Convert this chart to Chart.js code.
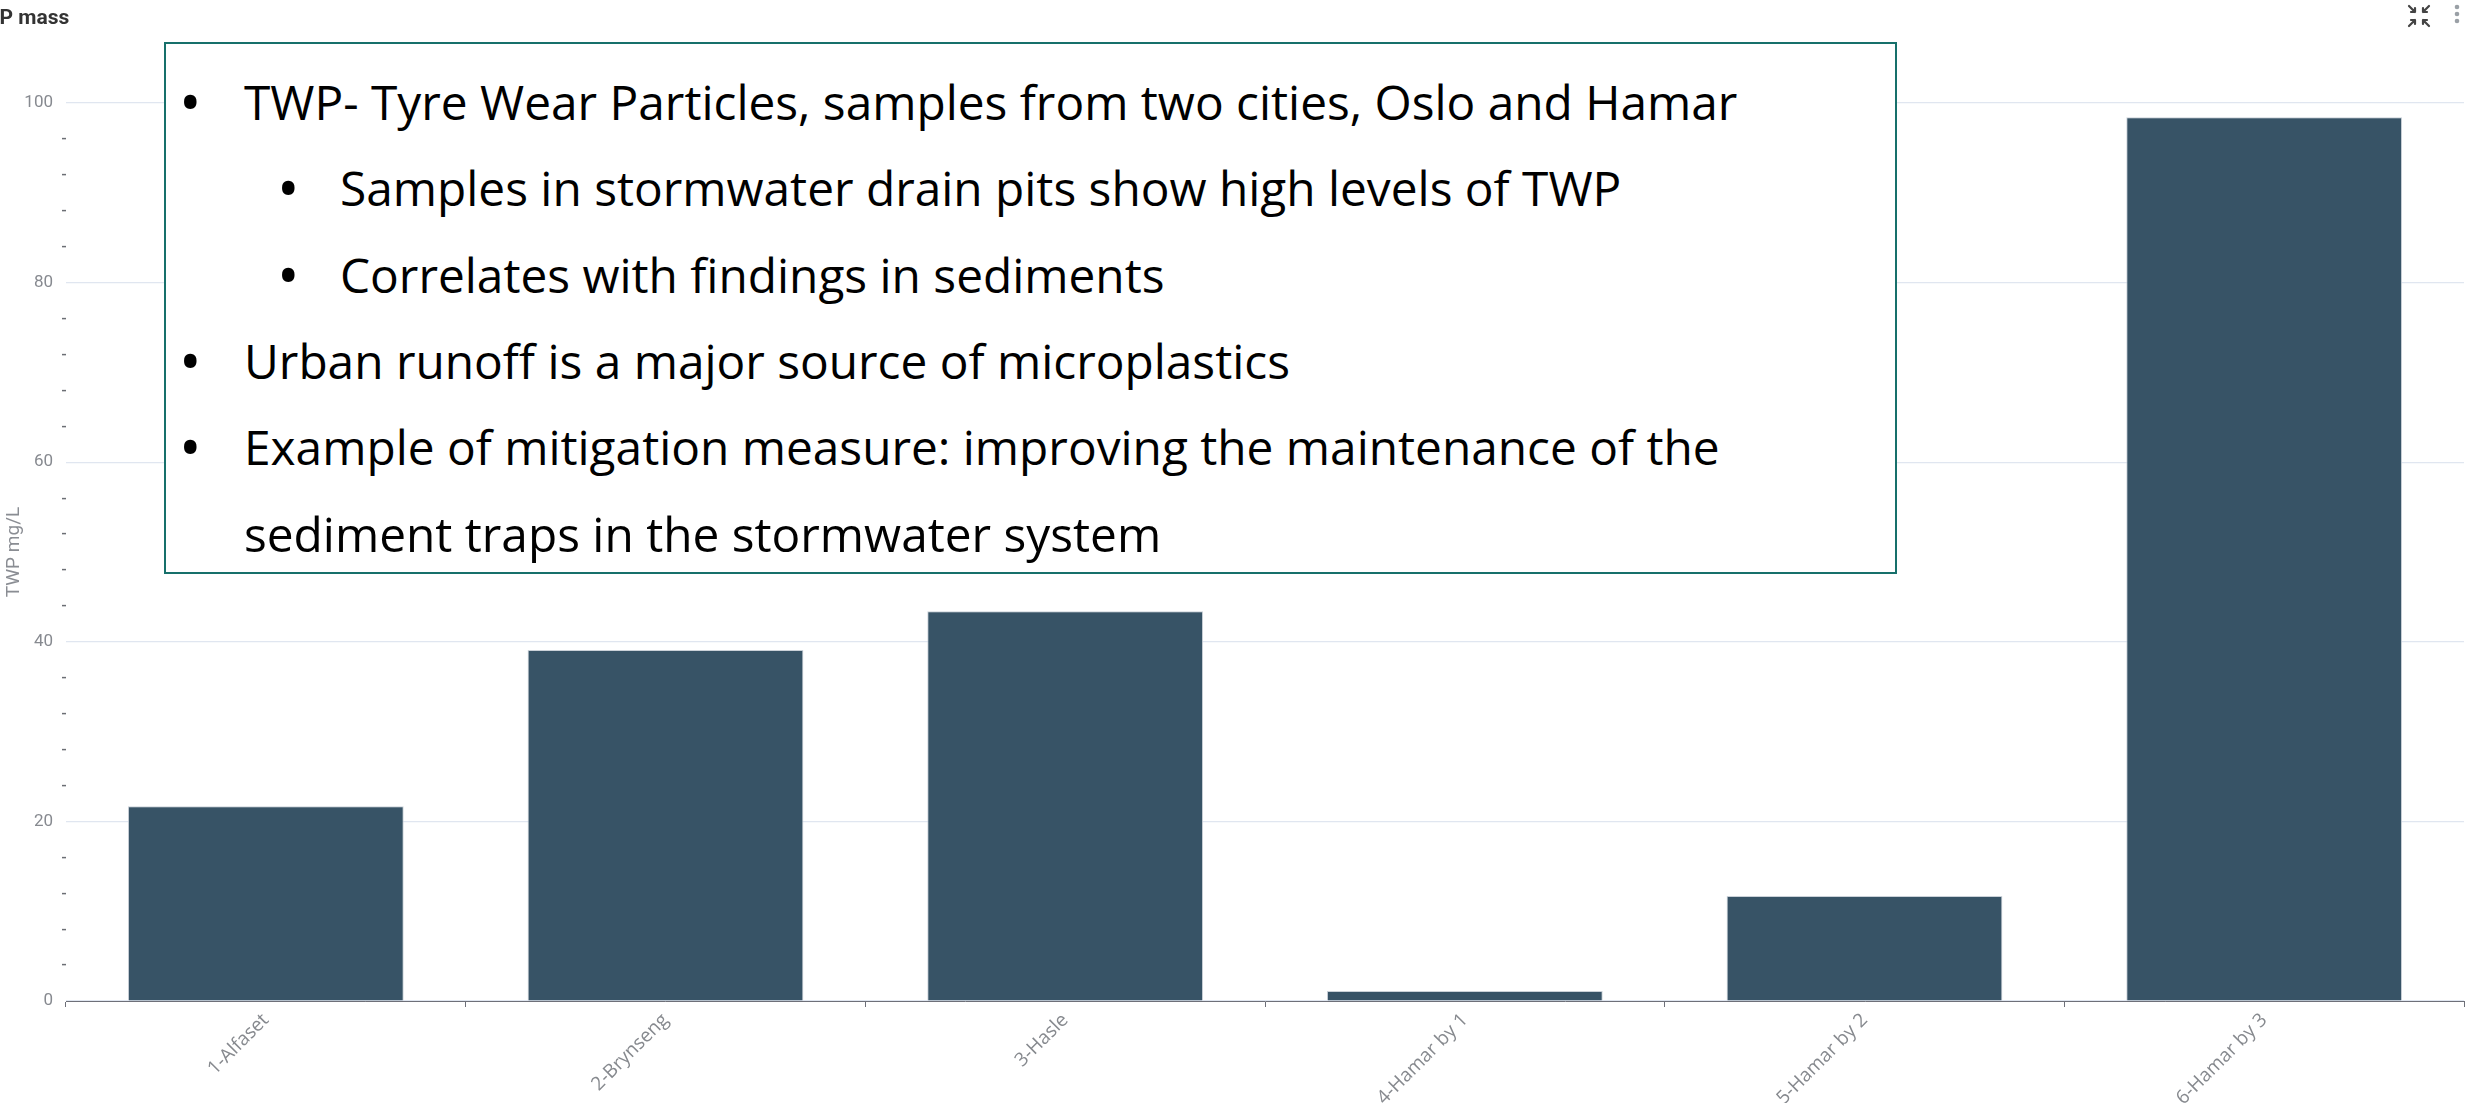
<!DOCTYPE html>
<html>
<head>
<meta charset="utf-8">
<script src="https://cdn.jsdelivr.net/npm/chart.js@4.4.1/dist/chart.umd.min.js"></script>
<style>
  html, body { margin: 0; padding: 0; background: #ffffff; overflow: hidden; }
  #wrap { position: relative; width: 2466px; height: 1103px; }
  #c { position: absolute; left: 0; top: 0; }
  #title { position: absolute; left: -32px; top: 5px; font: 700 21px Roboto, sans-serif; color: #333; white-space: nowrap; }
  #box { position: absolute; left: 164px; top: 42px; width: 1729px; height: 528px; border: 2px solid #17706b; background: #ffffff; }
  .ln { position: absolute; font-family: "Open Sans", sans-serif; font-size: 47.8px; color: #000; white-space: nowrap; line-height: 86px; height: 86px; }
  .bul { position: absolute; font-family: "Open Sans", sans-serif; font-size: 60px; color: #000; line-height: 86px; height: 86px; }
  #icons { position: absolute; left: 2400px; top: 2px; }
</style>
</head>
<body>
<div id="wrap">
  <canvas id="c" width="2466" height="1103"></canvas>
  <div id="title">TWP mass</div>
  <svg id="icons" width="66" height="30" viewBox="0 0 66 30">
    <g stroke="#444" stroke-width="2.2" fill="none" stroke-linecap="round">
      <path d="M9 4 L15 10 M15 10 L15 6 M15 10 L11 10"/>
      <path d="M29 4 L23 10 M23 10 L23 6 M23 10 L27 10"/>
      <path d="M15 18 L9 24 M15 18 L15 22 M15 18 L11 18"/>
      <path d="M23 18 L29 24 M23 18 L23 22 M23 18 L27 18"/>
    </g>
    <g fill="#9aa0a6">
      <circle cx="57" cy="5" r="2.3"/>
      <circle cx="57" cy="12" r="2.3"/>
      <circle cx="57" cy="19" r="2.3"/>
    </g>
  </svg>
  <div id="box"></div>
</div>
<script>
// ---- data ----
const categories = ['1-Alfaset', '2-Brynseng', '3-Hasle', '4-Hamar by 1', '5-Hamar by 2', '6-Hamar by 3'];
const twpValues = [21.7, 39.1, 43.4, 1.1, 11.7, 98.4];
const yTickLabels = [0, 20, 40, 60, 80, 100];
const yTitle = 'TWP mg/L';
const chartTitle = 'TWP mass';
const noteLines = [
  { level: 0, bullet: true, text: 'TWP- Tyre Wear Particles, samples from two cities, Oslo and Hamar' },
  { level: 1, bullet: true, text: 'Samples in stormwater drain pits show high levels of TWP' },
  { level: 1, bullet: true, text: 'Correlates with findings in sediments' },
  { level: 0, bullet: true, text: 'Urban runoff is a major source of microplastics' },
  { level: 0, bullet: true, text: 'Example of mitigation measure: improving the maintenance of the' },
  { level: 0, bullet: false, text: 'sediment traps in the stormwater system' }
];

// ---- text box overlay ----
document.getElementById('title').textContent = chartTitle;
const box = document.getElementById('box');
const lineTop0 = 15;
const lineStep = 86.3;
noteLines.forEach((l, i) => {
  const top = lineTop0 + i * lineStep;
  if (l.bullet) {
    const b = document.createElement('div');
    b.className = 'bul';
    b.textContent = '•';
    b.style.left = (l.level === 0 ? 13 : 111) + 'px';
    b.style.top = (top - 1) + 'px';
    box.appendChild(b);
  }
  const t = document.createElement('div');
  t.className = 'ln';
  t.textContent = l.text;
  t.style.left = (l.level === 0 ? 78 : 174) + 'px';
  t.style.top = top + 'px';
  box.appendChild(t);
});

// ---- chart ----
const ctx = document.getElementById('c').getContext('2d');
new Chart(ctx, {
  type: 'bar',
  data: {
    labels: categories,
    datasets: [{
      label: chartTitle,
      data: twpValues,
      backgroundColor: '#375366',
      borderColor: 'rgba(196,204,212,0.9)',
      borderWidth: 1,
      categoryPercentage: 1.0,
      barPercentage: 0.69
    }]
  },
  options: {
    responsive: false,
    animation: false,
    devicePixelRatio: 1,
    layout: { padding: { top: 103, right: 2, left: 0, bottom: 0 } },
    plugins: {
      legend: { display: false },
      tooltip: { enabled: false },
      title: { display: false }
    },
    scales: {
      x: {
        afterFit: (s) => { s.height = 102; },
        border: { display: true, color: '#6e7079', width: 1 },
        grid: {
          display: true,
          offset: true,
          drawOnChartArea: false,
          drawTicks: true,
          tickLength: 6,
          tickColor: '#6e7079'
        },
        ticks: {
          minRotation: 45,
          maxRotation: 45,
          autoSkip: false,
          padding: 2,
          color: '#86898e',
          font: { family: 'Open Sans', size: 19 }
        }
      },
      y: {
        min: 0,
        max: 100,
        afterFit: (s) => { s.width = 66; },
        border: { display: false },
        title: {
          display: true,
          text: yTitle,
          color: '#8a8d93',
          font: { family: 'Roboto', size: 19 },
          padding: { top: 3, bottom: 0 }
        },
        grid: {
          drawTicks: true,
          tickLength: 4,
          color: (c) => (c.tick && yTickLabels.includes(c.tick.value)) ? '#e0e6f0' : 'rgba(0,0,0,0)',
          tickColor: (c) => (c.tick && yTickLabels.includes(c.tick.value)) ? 'rgba(0,0,0,0)' : '#6b6e74',
          lineWidth: 1.2,
          tickWidth: 1.5
        },
        ticks: {
          stepSize: 4,
          autoSkip: false,
          padding: 9,
          color: '#878a90',
          font: { family: 'Roboto', size: 17 },
          callback: (v) => yTickLabels.includes(v) ? String(v) : ''
        }
      }
    }
  }
});
</script>
</body>
</html>
